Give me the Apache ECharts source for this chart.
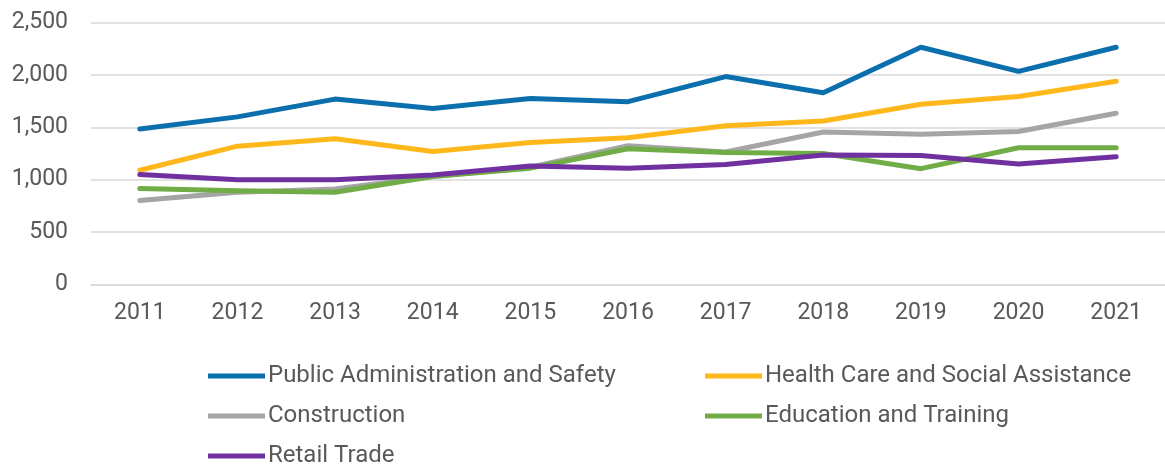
<!DOCTYPE html>
<html>
<head>
<meta charset="utf-8">
<script src="https://cdn.jsdelivr.net/npm/echarts@6/dist/echarts.min.js"></script>
<style>
  html, body { margin: 0; padding: 0; background: #fff; }
  #chart { width: 1165px; height: 465px; }
</style>
</head>
<body>
<div id="chart"></div>
<script>
// years on the x axis
const years = ['2011', '2012', '2013', '2014', '2015', '2016', '2017', '2018', '2019', '2020', '2021']

// values per industry
const publicAdmin = [1485, 1600, 1770, 1680, 1775, 1745, 1985, 1830, 2265, 2035, 2265]
const healthCare = [1090, 1320, 1390, 1270, 1355, 1400, 1515, 1560, 1720, 1795, 1940]
const construction = [800, 880, 910, 1030, 1120, 1325, 1265, 1455, 1435, 1460, 1635]
const education = [915, 895, 880, 1030, 1110, 1295, 1260, 1250, 1105, 1305, 1305]
const retail = [1050, 1000, 1000, 1045, 1130, 1110, 1145, 1235, 1230, 1150, 1220]

const labelColor = '#595959'
const fontFamily = 'Roboto'

const chart = echarts.init(document.getElementById('chart'))

function line(name, data, color) {
  return {
    name: name,
    type: 'line',
    data: data,
    color: color,
    showSymbol: false,
    symbol: 'none',
    lineStyle: { width: 5, color: color, cap: 'round', join: 'round' },
    animation: false
  }
}

const legendBase = {
  orient: 'vertical',
  icon: 'rect',
  padding: 0,
  itemWidth: 57,
  itemHeight: 5,
  itemGap: 16,
  top: 364,
  height: 120,
  textStyle: { fontSize: 24, lineHeight: 24, color: labelColor, fontFamily: fontFamily, padding: [0, 0, 0, -2] }
}

chart.setOption({
  backgroundColor: '#fff',
  grid: {
    left: 91,
    width: 1081,
    top: 22.7,
    bottom: 180.7
  },
  legend: [
    Object.assign({}, legendBase, {
      left: 208,
      data: ['Public Administration and Safety', 'Construction', 'Retail Trade']
    }),
    Object.assign({}, legendBase, {
      left: 705,
      data: ['Health Care and Social Assistance', 'Education and Training']
    })
  ],
  xAxis: {
    type: 'category',
    data: years,
    boundaryGap: true,
    axisLine: { show: true, lineStyle: { color: '#D9D9D9', width: 1.5 } },
    axisTick: { show: false },
    axisLabel: { color: labelColor, fontSize: 23, fontFamily: fontFamily, margin: 17 }
  },
  yAxis: {
    type: 'value',
    min: 0,
    max: 2500,
    interval: 500,
    axisLine: { show: false },
    axisTick: { show: false },
    splitLine: { lineStyle: { color: '#D9D9D9', width: 1.5 } },
    axisLabel: {
      color: labelColor,
      fontSize: 23,
      fontFamily: fontFamily,
      margin: 23,
      formatter: v => v.toLocaleString('en-US')
    }
  },
  series: [
    line('Public Administration and Safety', publicAdmin, '#0B6FAE'),
    line('Health Care and Social Assistance', healthCare, '#FFB81C'),
    line('Construction', construction, '#A5A5A5'),
    line('Education and Training', education, '#70AD47'),
    line('Retail Trade', retail, '#7030A0')
  ]
})
</script>
</body>
</html>
